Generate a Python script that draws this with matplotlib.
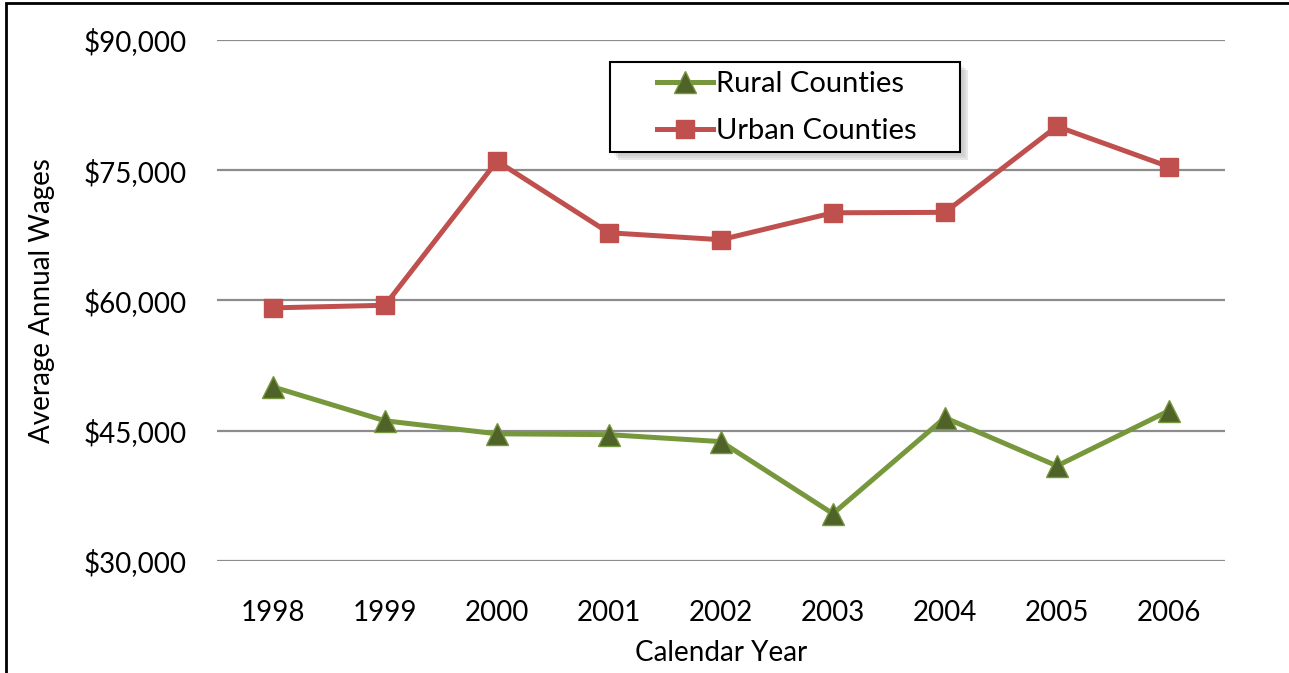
import matplotlib
matplotlib.use('Agg')
import matplotlib.pyplot as plt
from matplotlib.ticker import FuncFormatter, MultipleLocator
from matplotlib.patches import Rectangle
from matplotlib.transforms import offset_copy

years = ['1998', '1999', '2000', '2001', '2002', '2003', '2004', '2005', '2006']
rural = [50050, 46150, 44650, 44550, 43750, 35450, 46500, 40950, 47300]
urban = [59150, 59450, 76050, 67800, 67000, 70100, 70150, 80050, 75400]

plt.rcParams['font.family'] = ['Lato', 'DejaVu Sans']

fig = plt.figure(figsize=(12.89, 6.73), dpi=100)
ax = fig.add_axes([0.1683, 0.1664, 0.9503 - 0.1683, 0.9406 - 0.1664])

x = range(len(years))
ax.plot(x, rural, color='#77973D', lw=3.6, marker='^', markersize=16,
        markerfacecolor='#4F6228', markeredgecolor='#77973D', markeredgewidth=1,
        label='Rural Counties', zorder=3)
ax.plot(x, urban, color='#C0504D', lw=3.6, marker='s', markersize=12.5,
        markerfacecolor='#C0504D', markeredgecolor='#C0504D',
        label='Urban Counties', zorder=3)

ax.set_xlim(-0.5, len(years) - 0.5)
ax.set_ylim(30000, 90000)
ax.yaxis.set_major_locator(MultipleLocator(15000))
ax.yaxis.set_major_formatter(FuncFormatter(lambda v, p: '${:,.0f}'.format(v)))
ax.set_xticks(list(x))
ax.set_xticklabels(years)
ax.grid(axis='y', color='#8c8c8c', lw=1.6)
ax.set_axisbelow(True)
for s in ax.spines.values():
    s.set_visible(False)
ax.tick_params(axis='both', length=0, labelsize=20)
ax.tick_params(axis='y', pad=22)
ax.tick_params(axis='x', pad=28)

ax.set_ylabel('Average Annual Wages', fontsize=20, labelpad=20)
ax.set_xlabel('Calendar Year', fontsize=20, labelpad=10)

# legend box with a soft shadow, drawn by hand so its padding matches
bx, by, bw, bh = 0.390, 0.785, 0.347, 0.173
for i, a in enumerate([0.10, 0.14, 0.18]):
    off = 3 + i * 1.5
    tr = offset_copy(ax.transAxes, fig=fig, x=off, y=-off, units='points')
    ax.add_patch(Rectangle((bx, by), bw, bh, transform=tr, facecolor='gray',
                           edgecolor='none', alpha=a, zorder=4, clip_on=False))
ax.add_patch(Rectangle((bx, by), bw, bh, transform=ax.transAxes,
                       facecolor='white', edgecolor='black', lw=1.5,
                       zorder=5, clip_on=False))

leg = ax.legend(loc='upper left', bbox_to_anchor=(0.437, 0.94), fontsize=21,
                frameon=False, handlelength=1.9, handletextpad=0.1,
                borderpad=0, labelspacing=0.72, borderaxespad=0)
leg.set_zorder(6)

# outer frame of the chart (clipped at right and bottom)
fig.patches.append(Rectangle((6 / 1289, -0.05), 1.1, 1.05 - 3 / 673,
                             transform=fig.transFigure, fill=False,
                             edgecolor='black', lw=2))

fig.savefig('out.png', dpi=100)
